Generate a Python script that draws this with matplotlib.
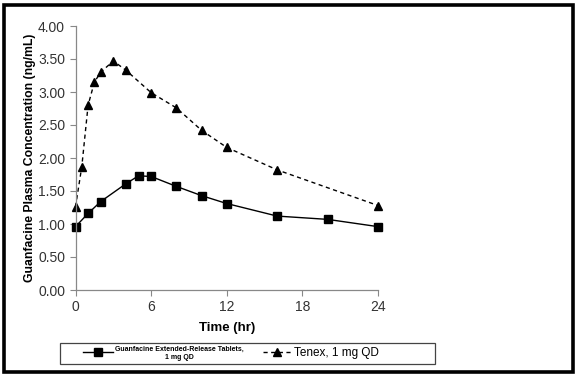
import matplotlib
matplotlib.use("Agg")
import matplotlib.pyplot as plt
from matplotlib.patches import Rectangle

plt.rcParams['font.family'] = ['Liberation Sans', 'DejaVu Sans']

time_er = [0, 1, 2, 4, 5, 6, 8, 10, 12, 16, 20, 24]
conc_er = [0.96, 1.16, 1.34, 1.61, 1.73, 1.72, 1.57, 1.43, 1.31, 1.12, 1.07, 0.96]
time_ir = [0, 0.5, 1, 1.5, 2, 3, 4, 6, 8, 10, 12, 16, 24]
conc_ir = [1.26, 1.87, 2.80, 3.15, 3.30, 3.47, 3.33, 2.99, 2.76, 2.42, 2.16, 1.82, 1.28]
label_er = "Guanfacine Extended-Release Tablets,\n1 mg QD"
label_ir = "Tenex, 1 mg QD"
xticks = [0, 6, 12, 18, 24]
yticks = [0.0, 0.5, 1.0, 1.5, 2.0, 2.5, 3.0, 3.5, 4.0]

W, H = 578, 376
fig = plt.figure(figsize=(W/100, H/100), dpi=100)
ax = fig.add_axes([75.5/W, 1-290/H, 302.5/W, 264/H])

l1, = ax.plot(time_er, conc_er, '-', color='black', lw=1.0, marker='s', ms=6,
              label=label_er)
l2, = ax.plot(time_ir, conc_ir, '--', color='black', lw=1.0, marker='^', ms=6,
              label=label_ir, dashes=(3, 2.5))

ax.set_xlim(0, 24)
ax.set_ylim(0, 4)
ax.set_xticks(xticks)
ax.set_yticks(yticks)
ax.set_yticklabels([f"{v:.2f}" for v in yticks])
ax.tick_params(axis='both', labelsize=10, length=4, width=0.8,
               direction='out', color='#888888', labelcolor='#333333')
for s in ['top', 'right']:
    ax.spines[s].set_visible(False)
for s in ['left', 'bottom']:
    ax.spines[s].set_color('#888888')
    ax.spines[s].set_linewidth(0.9)

ax.set_ylabel("Guanfacine Plasma Concentration (ng/mL)", fontsize=8.8, fontweight='bold')
ax.yaxis.set_label_coords(-(75.5-36)/302.5, 0.5)
ax.set_xlabel("Time (hr)", fontsize=9.5, fontweight='bold')
ax.xaxis.set_label_coords(0.5, -(322-290)/264)
for line in (l1, l2):
    line.set_clip_on(False)

# legend box
fig.patches.append(Rectangle((60/W, 1-364/H), 375/W, 21/H, transform=fig.transFigure,
                             fill=False, edgecolor='#444444', linewidth=0.9))
leg = fig.legend(handles=[l1, l2], loc='center left', ncol=2,
                 bbox_to_anchor=(83/W, 1-353.5/H), borderaxespad=0, borderpad=0,
                 frameon=False, handlelength=2.5, columnspacing=1.6,
                 handletextpad=0.2, fontsize=8.5)
texts = leg.get_texts()
texts[0].set_fontsize(5.0)
texts[0].set_fontweight('bold')
texts[0].set_multialignment('center')
texts[1].set_fontsize(8.5)

fig.patches.append(Rectangle((3.5/W, 4.5/H), 569.5/W, 367/H, transform=fig.transFigure,
                             fill=False, edgecolor='black', linewidth=2.6))

fig.savefig("out.png", dpi=100)
